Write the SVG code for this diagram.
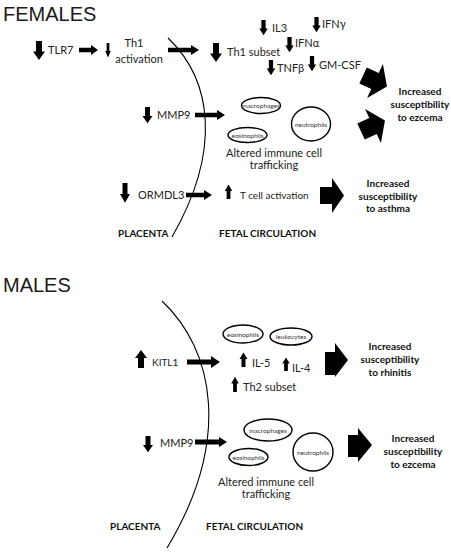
<svg xmlns="http://www.w3.org/2000/svg" xmlns:xlink="http://www.w3.org/1999/xlink" width="451" height="554" viewBox="0 0 451 554">
<style>
.title{font-family:"Liberation Sans",Arial,sans-serif;font-size:20px;fill:#1a1a1a}
.t{font-family:Lato,"Liberation Sans",sans-serif;font-size:11px;fill:#222}
.s{font-family:Lato,"Liberation Sans",sans-serif;font-size:10px;fill:#222}
.b{font-family:Lato,"Liberation Sans",sans-serif;font-size:10px;font-weight:bold;fill:#111}
.e{font-family:Lato,"Liberation Sans",sans-serif;font-size:6.5px;fill:#333}
.cell{fill:#fff;stroke:#000;stroke-width:1.4}
.curve{fill:none;stroke:#000;stroke-width:1.1}
.ar{fill:#000}
</style>
<defs>
<path id="dn" d="M-2.5,0 H2.5 V10 H5 L0,18 L-5,10 H-2.5 Z"/>
<path id="blk" d="M-12,-8 L0,-8 L0,-17 L12,0 L0,17 L0,8 L-12,8 Z"/>
</defs>

<text class="title" x="3" y="21">FEMALES</text>
<text class="title" x="3" y="292">MALES</text>

<path class="curve" d="M168,38 C212,80 222,150 172,237"/>
<path class="curve" d="M162,301 C214,350 232,440 167,548"/>

<g id="tlr7"><use href="#dn" class="ar" transform="translate(39,41) scale(1.2,1.05)"/><text class="t" x="48" y="54">TLR7</text></g>
<g id="th1act"><use href="#dn" class="ar" transform="translate(108,43) scale(0.55,0.8)"/><text class="t" x="134" y="47" text-anchor="middle">Th1</text><text class="t" x="139" y="63" text-anchor="middle">activation</text></g>
<g id="th1subset"><use href="#dn" class="ar" transform="translate(216,43) scale(1.2,1.05)"/><text class="t" x="227" y="56">Th1 subset</text></g>
<g id="il3"><use href="#dn" class="ar" transform="translate(263.5,20) scale(0.85,0.85)"/><text class="t" x="272" y="32">IL3</text></g>
<g id="ifng"><use href="#dn" class="ar" transform="translate(316.5,17) scale(0.85,0.85)"/><text class="t" x="322" y="28">IFNγ</text></g>
<g id="ifna"><use href="#dn" class="ar" transform="translate(289.5,37) scale(0.85,0.85)"/><text class="t" x="295" y="47">IFNα</text></g>
<g id="tnfb"><use href="#dn" class="ar" transform="translate(271,60) scale(0.85,0.85)"/><text class="t" x="277" y="72">TNFβ</text></g>
<g id="gmcsf"><use href="#dn" class="ar" transform="translate(312,56) scale(0.85,0.85)"/><text class="t" x="319" y="69">GM-CSF</text></g>

<g id="mmp9f"><use href="#dn" class="ar" transform="translate(147.5,107) scale(1,0.9)"/><text class="t" x="157" y="119">MMP9</text></g>
<g id="cellsf">
<ellipse class="cell" cx="261" cy="105.5" rx="19.5" ry="8"/><text class="e" x="261" y="108" text-anchor="middle">macrophages</text>
<ellipse class="cell" cx="311" cy="124" rx="19.5" ry="17"/><text class="e" x="311" y="126.5" text-anchor="middle">neutrophils</text>
<ellipse class="cell" cx="247.5" cy="135" rx="19.5" ry="7.5"/><text class="e" x="247.5" y="137.5" text-anchor="middle">eosinophils</text>
<text class="t" x="274" y="157" text-anchor="middle">Altered immune cell</text>
<text class="t" x="274" y="169" text-anchor="middle">trafficking</text>
</g>
<g id="eczf"><text class="b" x="420" y="95" text-anchor="middle">Increased</text><text class="b" x="420" y="108" text-anchor="middle">susceptibility</text><text class="b" x="420" y="121" text-anchor="middle">to ezcema</text></g>

<g id="ormdl3"><use href="#dn" class="ar" transform="translate(125,183) scale(1,1.1)"/><text class="t" x="138" y="199" font-size="10.3">ORMDL3</text></g>
<g id="tcell"><use href="#dn" class="ar" transform="translate(228.5,199) scale(0.75,-0.8)"/><text class="s" x="240" y="199">T cell activation</text></g>
<g id="asthma"><text class="b" x="388" y="187" text-anchor="middle">Increased</text><text class="b" x="388" y="200" text-anchor="middle">susceptibility</text><text class="b" x="388" y="212" text-anchor="middle">to asthma</text></g>
<g id="placf"><text class="b" x="118" y="237">PLACENTA</text><text class="b" x="219" y="237">FETAL CIRCULATION</text></g>

<g id="kitl1"><use href="#dn" class="ar" transform="translate(141,368) scale(1.2,-1)"/><text class="s" x="152" y="366" font-size="9">KITL1</text></g>
<g id="cellsm1">
<ellipse class="cell" cx="243" cy="334" rx="20" ry="9"/><text class="e" x="243" y="336.5" text-anchor="middle">eosinophils</text>
<ellipse class="cell" cx="291" cy="336.5" rx="21" ry="8.5"/><text class="e" x="291" y="339" text-anchor="middle">leukocytes</text>
</g>
<g id="il5"><use href="#dn" class="ar" transform="translate(243.5,367) scale(0.8,-0.8)"/><text class="t" x="252" y="367">IL-5</text></g>
<g id="il4"><use href="#dn" class="ar" transform="translate(286,371) scale(0.75,-0.75)"/><text class="t" x="292" y="372">IL-4</text></g>
<g id="th2"><use href="#dn" class="ar" transform="translate(235,392) scale(0.75,-0.85)"/><text class="t" x="243" y="391">Th2 subset</text></g>
<g id="rhin"><text class="b" x="390" y="350" text-anchor="middle">Increased</text><text class="b" x="390" y="363" text-anchor="middle">susceptibility</text><text class="b" x="390" y="376" text-anchor="middle">to rhinitis</text></g>

<g id="mmp9m"><use href="#dn" class="ar" transform="translate(148,436) scale(1,0.9)"/><text class="t" x="160" y="447">MMP9</text></g>
<g id="cellsm2">
<ellipse class="cell" cx="268" cy="430" rx="24" ry="11"/><text class="e" x="268" y="432.5" text-anchor="middle">macrophages</text>
<ellipse class="cell" cx="313" cy="452" rx="20" ry="19"/><text class="e" x="313" y="454.5" text-anchor="middle">neutrophils</text>
<ellipse class="cell" cx="248.5" cy="457" rx="19.5" ry="8.5"/><text class="e" x="248.5" y="459.5" text-anchor="middle">eosinophils</text>
<text class="t" x="266" y="486" text-anchor="middle">Altered immune cell</text>
<text class="t" x="266" y="498" text-anchor="middle">trafficking</text>
</g>
<g id="eczm"><text class="b" x="413" y="442" text-anchor="middle">Increased</text><text class="b" x="413" y="455" text-anchor="middle">susceptibility</text><text class="b" x="413" y="468" text-anchor="middle">to ezcema</text></g>
<g id="placm"><text class="b" x="110" y="530">PLACENTA</text><text class="b" x="206" y="530">FETAL CIRCULATION</text></g>

<g id="connectors" class="ar">
<path d="M79,47.8 H91 V45 L98,50 L91,55 V52.2 H79 Z"/>
<path d="M168,47.8 H191 V45 L199,50 L191,55 V52.2 H168 Z"/>
<path d="M195,112.8 H217 V110 L225,115 L217,120 V117.2 H195 Z"/>
<path d="M186,192.8 H204 V190 L212,195 L204,200 V197.2 H186 Z"/>
<path d="M187,359.5 H211 V356 L220,362 L211,368 V364.5 H187 Z"/>
<path d="M195,439.5 H219 V437 L227,442 L219,447 V444.5 H195 Z"/>
<use href="#blk" transform="translate(375,81) rotate(25) scale(1.1)"/>
<use href="#blk" transform="translate(373,126) rotate(-25) scale(1.1)"/>
<path d="M320,187 H332 V178 L344,195.5 L332,213 V204 H320 Z"/>
<path d="M325,352 H335 V343 L348,360 L335,377 V375 H325 Z"/>
<path d="M348,435 H358 V428 L372,445 L358,462 V457 H348 Z"/>
</g>
</svg>
